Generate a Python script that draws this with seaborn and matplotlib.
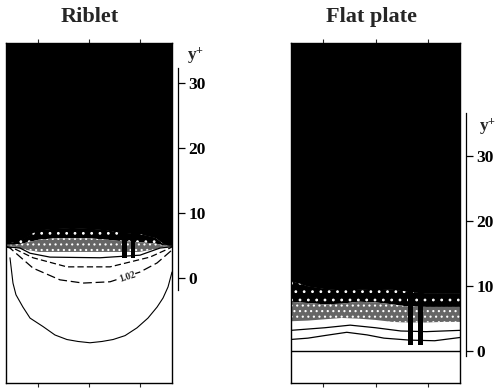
import matplotlib
matplotlib.use("Agg")
import matplotlib.pyplot as plt
import seaborn as sns

# ---------------- data ----------------
panel_titles = ["Riblet", "Flat plate"]
scale_ticks = [0, 10, 20, 30]
contour_label = "1.02"

# Riblet panel: spanwise position (0..1) and y+ of the shaded-region edges
rib_x = [0.0, 0.05, 0.1, 0.2, 0.3, 0.4, 0.5, 0.6, 0.68, 0.8, 0.9, 0.95, 1.0]
rib_black = [5.4, 5.4, 6.0, 7.4, 7.6, 7.7, 7.6, 7.4, 7.0, 6.8, 6.2, 5.2, 5.0]
rib_dark = [5.1, 5.1, 5.3, 5.9, 6.1, 6.1, 6.1, 5.9, 5.7, 5.5, 5.3, 5.0, 4.9]
rib_light = [4.9, 4.8, 4.4, 4.0, 4.0, 4.0, 4.0, 4.0, 4.0, 4.0, 4.4, 4.8, 4.8]
rib_streaks_x = [[0.70, 0.73], [0.75, 0.78]]
rib_streak_bottom = 3.0

# Riblet panel contour lines (x, y+)
rib_c1_x = [0.0, 0.084, 0.145, 0.265, 0.566, 0.807, 0.928, 1.0]
rib_c1_y = [4.8, 4.6, 3.8, 3.2, 3.1, 3.5, 4.6, 4.8]
rib_c2_x = [0.0, 0.042, 0.163, 0.367, 0.627, 0.867, 0.988, 1.0]
rib_c2_y = [4.8, 4.6, 3.1, 1.7, 1.7, 3.2, 4.6, 4.8]
rib_c3_x = [0.0, 0.024, 0.163, 0.325, 0.464, 0.627, 0.807, 0.910, 1.0]
rib_c3_y = [4.8, 4.6, 1.5, -0.3, -0.8, -0.6, 0.9, 2.3, 4.3]
rib_c4_x = [0.024, 0.042, 0.060, 0.102, 0.145, 0.223, 0.295, 0.367, 0.434,
            0.506, 0.578, 0.645, 0.717, 0.789, 0.855, 0.910, 0.946, 0.976, 1.0]
rib_c4_y = [3.1, -0.8, -2.6, -4.5, -6.2, -7.5, -8.8, -9.5, -9.8,
            -10.0, -9.8, -9.5, -8.9, -7.7, -6.2, -4.5, -3.1, -1.4, 0.9]
rib_label_pos = (0.729, 0.15)

# Flat-plate panel
flat_x = [0.0, 0.1, 0.2, 0.3, 0.4, 0.5, 0.6, 0.68, 0.8, 0.9, 1.0]
flat_black = [10.8, 10.0, 9.6, 9.4, 9.5, 9.6, 9.5, 9.2, 8.9, 8.9, 8.9]
flat_dark = [7.6, 7.4, 7.2, 7.3, 7.6, 7.5, 7.2, 6.9, 6.8, 6.8, 6.8]
flat_light = [4.6, 4.7, 4.9, 5.1, 5.0, 4.8, 4.5, 4.4, 4.4, 4.5, 4.5]
flat_streaks_x = [[0.69, 0.72], [0.75, 0.78]]
flat_streak_bottom = 0.9
flat_c1_x = [0.0, 0.2, 0.35, 0.5, 0.65, 0.8, 1.0]
flat_c1_y = [3.2, 3.6, 4.0, 3.6, 3.1, 3.0, 3.2]
flat_c2_x = [0.0, 0.1, 0.2, 0.33, 0.45, 0.55, 0.7, 0.85, 1.0]
flat_c2_y = [1.8, 2.0, 2.4, 2.9, 2.5, 2.0, 1.7, 1.6, 2.1]
flat_wall_x = [0.0, 1.0]
flat_wall_y = [0.0, 0.0]

# ---------------- style ----------------
sns.set_style("white")
plt.rcParams["font.family"] = ["Liberation Serif", "DejaVu Serif"]
plt.rcParams["font.weight"] = "bold"
plt.rcParams["mathtext.fontset"] = "custom"
plt.rcParams["mathtext.rm"] = "Liberation Serif:bold"
plt.rcParams["mathtext.it"] = "Liberation Serif:italic:bold"
plt.rcParams["hatch.linewidth"] = 0.8

W, H = 500, 390
fig = plt.figure(figsize=(W / 100, H / 100), dpi=100)

axL = fig.add_axes([6 / W, 7 / H, 166 / W, 340 / H])
axR = fig.add_axes([291 / W, 7 / H, 169 / W, 340 / H])
axL.set_ylim(-16.2, 36.2)
axR.set_ylim(-4.9, 47.4)


def shade(ax, x, black, dark, light, top):
    ax.fill_between(x, black, top, color="black", lw=0, zorder=1)
    ax.fill_between(x, dark, black, facecolor="black", edgecolor="white",
                    hatch="..", lw=0, zorder=1)
    ax.fill_between(x, light, dark, facecolor="0.4", edgecolor="white",
                    hatch="...", lw=0, zorder=1)


def line(ax, x, y, ls="-", lw=0.9, color="black", z=3):
    sns.lineplot(x=x, y=y, ax=ax, color=color, lw=lw, linestyle=ls,
                 sort=False, estimator=None, zorder=z)


# Riblet
topL = axL.get_ylim()[1]
shade(axL, rib_x, rib_black, rib_dark, rib_light, topL)
for sx in rib_streaks_x:
    axL.fill_between(sx, [rib_streak_bottom] * 2, [topL] * 2,
                     color="black", lw=0, zorder=2)
line(axL, rib_c1_x, rib_c1_y)
line(axL, rib_c2_x, rib_c2_y, ls=(0, (5, 2.5)))
line(axL, rib_c3_x, rib_c3_y, ls=(0, (7, 3)))
line(axL, rib_c4_x, rib_c4_y, lw=0.8)
axL.text(rib_label_pos[0], rib_label_pos[1], contour_label, rotation=18,
         fontsize=7, fontweight="bold", ha="center", va="center", zorder=4,
         bbox=dict(fc="white", ec="none", pad=0.3))

# Flat plate
topR = axR.get_ylim()[1]
shade(axR, flat_x, flat_black, flat_dark, flat_light, topR)
for sx in flat_streaks_x:
    axR.fill_between(sx, [flat_streak_bottom] * 2, [topR] * 2,
                     color="black", lw=0, zorder=2)
line(axR, flat_c1_x, flat_c1_y)
line(axR, flat_c2_x, flat_c2_y)
line(axR, flat_wall_x, flat_wall_y, lw=1.0)

# frames, ticks, scale bars
scale_bounds = [(-1.8, 32.3), (-0.8, 36.6)]
label_pos = [(187, 56), (479, 127)]
title_x = [90, 371]
for ax, title, bnd, lp, tx in zip([axL, axR], panel_titles, scale_bounds,
                                  label_pos, title_x):
    ax.set_xlim(0, 1)
    for s in ax.spines.values():
        s.set_visible(True)
        s.set_color("black")
        s.set_linewidth(1.0)
        s.set_zorder(5)
    ax.set_yticks([])
    ax.set_xticks([0.19, 0.5, 0.81])
    ax.tick_params(axis="x", which="both", bottom=True, top=True,
                   direction="out", length=3, width=0.8,
                   labelbottom=False, labeltop=False)
    ax.set_xlabel("")
    ax.set_ylabel("")

    sc = ax.twinx()
    sc.set_ylim(ax.get_ylim())
    for name in ["left", "top", "bottom"]:
        sc.spines[name].set_visible(False)
    sc.spines["right"].set_visible(True)
    sc.spines["right"].set_color("black")
    sc.spines["right"].set_linewidth(0.9)
    sc.spines["right"].set_position(("outward", 4.5))
    sc.spines["right"].set_bounds(*bnd)
    sc.set_yticks(scale_ticks)
    sc.set_yticklabels([str(t) for t in scale_ticks], fontweight="bold")
    sc.tick_params(axis="y", right=True, left=False, direction="out",
                   length=5, width=0.9, pad=2.5, labelsize=12.5,
                   labelcolor="black", color="black")

    fig.text(lp[0] / W, 1 - lp[1] / H, r"$\mathrm{y}^{+}$", fontsize=12.5,
             ha="left", va="center")
    fig.text(tx / W, 1 - 22 / H, title, fontsize=16, fontweight="bold",
             ha="center", va="baseline")

fig.savefig("out.png", dpi=100)
